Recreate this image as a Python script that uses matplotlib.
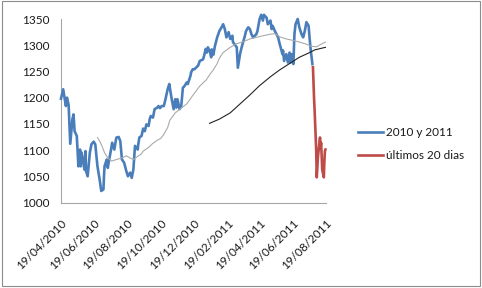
import matplotlib
matplotlib.use('Agg')
import matplotlib.pyplot as plt
import matplotlib.dates as mdates
import pandas as pd
from matplotlib.patches import Rectangle

dpi = 100
plt.rcParams['font.family'] = ['Lato', 'DejaVu Sans']

# index close (blue series)
blue_dates = [
    '2010-04-19', '2010-04-23', '2010-04-28', '2010-04-30', '2010-05-03', '2010-05-06',
    '2010-05-10', '2010-05-12', '2010-05-14', '2010-05-18', '2010-05-21', '2010-05-24',
    '2010-05-25', '2010-05-27', '2010-06-01', '2010-06-03', '2010-06-04', '2010-06-07',
    '2010-06-11', '2010-06-14', '2010-06-18', '2010-06-21', '2010-06-25', '2010-06-29',
    '2010-07-02', '2010-07-06', '2010-07-07', '2010-07-08', '2010-07-12', '2010-07-14',
    '2010-07-16', '2010-07-20', '2010-07-22', '2010-07-26', '2010-07-29', '2010-07-30',
    '2010-08-03', '2010-08-06', '2010-08-09', '2010-08-13', '2010-08-17', '2010-08-20',
    '2010-08-24', '2010-08-27', '2010-08-30', '2010-09-01', '2010-09-02', '2010-09-07',
    '2010-09-08', '2010-09-10', '2010-09-14', '2010-09-17', '2010-09-20', '2010-09-23',
    '2010-09-27', '2010-09-29', '2010-10-01', '2010-10-05', '2010-10-08', '2010-10-13',
    '2010-10-15', '2010-10-18', '2010-10-21', '2010-10-25', '2010-10-28', '2010-11-01',
    '2010-11-04', '2010-11-05', '2010-11-08', '2010-11-11', '2010-11-12', '2010-11-15',
    '2010-11-17', '2010-11-19', '2010-11-23', '2010-11-26', '2010-11-29', '2010-12-02',
    '2010-12-06', '2010-12-08', '2010-12-13', '2010-12-14', '2010-12-17', '2010-12-20',
    '2010-12-23', '2010-12-27', '2010-12-30', '2011-01-05', '2011-01-07', '2011-01-10',
    '2011-01-12', '2011-01-14', '2011-01-18', '2011-01-20', '2011-01-21', '2011-01-24',
    '2011-01-27', '2011-01-31', '2011-02-02', '2011-02-04', '2011-02-08', '2011-02-11',
    '2011-02-14', '2011-02-17', '2011-02-21', '2011-02-24', '2011-02-28', '2011-03-01',
    '2011-03-08', '2011-03-10', '2011-03-14', '2011-03-17', '2011-03-23', '2011-03-25',
    '2011-03-29', '2011-04-01', '2011-04-04', '2011-04-07', '2011-04-13', '2011-04-15',
    '2011-04-19', '2011-04-22', '2011-04-25', '2011-04-27', '2011-05-02', '2011-05-04',
    '2011-05-09', '2011-05-11', '2011-05-13', '2011-05-17', '2011-05-23', '2011-05-26',
    '2011-05-31', '2011-06-01', '2011-06-03', '2011-06-07', '2011-06-10', '2011-06-13',
    '2011-06-15', '2011-06-17', '2011-06-20', '2011-06-22', '2011-06-24', '2011-06-28',
    '2011-07-01', '2011-07-05', '2011-07-08', '2011-07-11', '2011-07-14', '2011-07-18',
    '2011-07-20', '2011-07-22', '2011-07-25',
]
blue_values = [
    1198, 1216, 1184, 1200, 1186, 1112,
    1159, 1168, 1136, 1127, 1069, 1101,
    1069, 1095, 1063, 1098, 1060, 1050,
    1095, 1111, 1116, 1111, 1069, 1044,
    1022, 1025, 1050, 1069, 1082, 1066,
    1079, 1101, 1114, 1101, 1120, 1124,
    1125, 1117, 1082, 1076, 1060, 1050,
    1057, 1047, 1063, 1095, 1108, 1101,
    1111, 1124, 1127, 1141, 1136, 1149,
    1146, 1159, 1165, 1162, 1178, 1181,
    1184, 1180, 1184, 1184, 1197, 1216,
    1226, 1219, 1200, 1184, 1178, 1197,
    1181, 1197, 1178, 1184, 1219, 1222,
    1229, 1226, 1242, 1248, 1254, 1254,
    1257, 1261, 1270, 1273, 1280, 1293,
    1286, 1296, 1286, 1277, 1292, 1282,
    1299, 1315, 1321, 1327, 1334, 1340,
    1331, 1315, 1325, 1312, 1318, 1306,
    1296, 1257, 1283, 1296, 1318, 1327,
    1334, 1331, 1321, 1315, 1321, 1327,
    1350, 1358, 1347, 1358, 1352, 1340,
    1347, 1331, 1337, 1327, 1315, 1302,
    1283, 1290, 1270, 1283, 1267, 1286,
    1267, 1283, 1264, 1321, 1340, 1350,
    1334, 1321, 1315, 1327, 1344, 1337,
    1312, 1290, 1264,
]

# last 20 days (red series)
red_dates = [
    '2011-07-26', '2011-07-27', '2011-07-28', '2011-07-29', '2011-08-01', '2011-08-02',
    '2011-08-03', '2011-08-04', '2011-08-05', '2011-08-08', '2011-08-09', '2011-08-10',
    '2011-08-11', '2011-08-12', '2011-08-15', '2011-08-16', '2011-08-17', '2011-08-18',
]
red_values = [
    1258, 1230, 1200, 1178, 1100, 1048,
    1065, 1085, 1095, 1124, 1105, 1114,
    1090, 1063, 1048, 1078, 1098, 1101,
]

# moving averages (thin grey and black lines)
ma50_dates = [
    '2010-06-25', '2010-06-29', '2010-07-02', '2010-07-08', '2010-07-14', '2010-07-21',
    '2010-07-30', '2010-08-09', '2010-08-17', '2010-08-24', '2010-08-30', '2010-09-07',
    '2010-09-13', '2010-09-17', '2010-09-27', '2010-10-04', '2010-10-13', '2010-10-19',
    '2010-10-25', '2010-11-01', '2010-11-05', '2010-11-15', '2010-11-26', '2010-12-06',
    '2010-12-13', '2010-12-17', '2010-12-30', '2011-01-11', '2011-01-18', '2011-01-24',
    '2011-01-31', '2011-02-04', '2011-02-11', '2011-02-24', '2011-03-08', '2011-03-21',
    '2011-04-01', '2011-04-13', '2011-04-25', '2011-05-09', '2011-05-17', '2011-05-26',
    '2011-06-07', '2011-06-20', '2011-07-01', '2011-07-14', '2011-07-22', '2011-08-02',
    '2011-08-10', '2011-08-18',
]
ma50_values = [
    1124, 1117, 1111, 1095, 1085, 1079,
    1082, 1085, 1089, 1085, 1082, 1088,
    1092, 1098, 1105, 1112, 1119, 1122,
    1130, 1143, 1157, 1171, 1180, 1188,
    1198, 1204, 1222, 1234, 1245, 1253,
    1265, 1275, 1286, 1296, 1303, 1307,
    1312, 1315, 1318, 1321, 1322, 1316,
    1312, 1309, 1306, 1302, 1298, 1297,
    1302, 1306,
]
ma200_dates = [
    '2011-01-17', '2011-02-04', '2011-02-24', '2011-03-14', '2011-04-01', '2011-04-19',
    '2011-05-09', '2011-05-26', '2011-06-13', '2011-07-01', '2011-07-20', '2011-07-29',
    '2011-08-18',
]
ma200_values = [
    1151, 1159, 1171, 1188, 1205, 1223,
    1240, 1253, 1265, 1277, 1286, 1291,
    1296,
]

tick_dates = ['2010-04-19', '2010-06-19', '2010-08-19', '2010-10-19', '2010-12-19',
              '2011-02-19', '2011-04-19', '2011-06-19', '2011-08-19']
y_ticks = [1000, 1050, 1100, 1150, 1200, 1250, 1300, 1350]

W, H = 482, 288
fig = plt.figure(figsize=(W / dpi, H / dpi), dpi=dpi)
ax = fig.add_axes([61 / W, 1 - 202.5 / H, 265 / W, (202.5 - 19) / H])

blue_line, = ax.plot(pd.to_datetime(blue_dates), blue_values, color='#4A7EBB', lw=1.9,
                     solid_joinstyle='round', clip_on=False, zorder=3, label='2010 y 2011')
red_line, = ax.plot(pd.to_datetime(red_dates), red_values, color='#BE4B48', lw=1.9,
                    solid_joinstyle='round', clip_on=False, zorder=3, label='últimos 20 dias')
ax.plot(pd.to_datetime(ma50_dates), ma50_values, color='#aaaaaa', lw=0.8, zorder=4, clip_on=False)
ax.plot(pd.to_datetime(ma200_dates), ma200_values, color='#222222', lw=0.8, zorder=4, clip_on=False)

ax.set_xlim(pd.Timestamp('2010-04-19'), pd.Timestamp('2011-08-19'))
ax.set_ylim(1000, 1350)
ax.set_yticks(y_ticks)
ax.set_xticks(pd.to_datetime(tick_dates))
ax.xaxis.set_major_formatter(mdates.DateFormatter('%d/%m/%Y'))

for s in ['top', 'right']:
    ax.spines[s].set_visible(False)
for s in ['left', 'bottom']:
    ax.spines[s].set_color('#a6a6a6')
    ax.spines[s].set_linewidth(0.8)

ax.tick_params(axis='both', length=0, labelsize=8.5, colors='#1a1a1a')
ax.tick_params(axis='y', pad=8.5)
ax.tick_params(axis='x', pad=10.5)
for lab in ax.get_xticklabels():
    lab.set_rotation(45)
    lab.set_ha('right')
    lab.set_va('top')
    lab.set_rotation_mode('anchor')

fig.legend(handles=[blue_line, red_line], loc='center left',
           bbox_to_anchor=(357.5 / W, 1 - 144.2 / H), frameon=False,
           fontsize=8.5, handlelength=2.15, handletextpad=0.25,
           labelspacing=1.05, borderpad=0, borderaxespad=0, labelcolor='#1a1a1a')

fig.patches.append(Rectangle((1.5 / W, 2.3 / H), 478.5 / W, 284.5 / H, transform=fig.transFigure,
                             fill=False, edgecolor='#8c8c8c', lw=0.8))

fig.savefig('out.png', dpi=dpi)
